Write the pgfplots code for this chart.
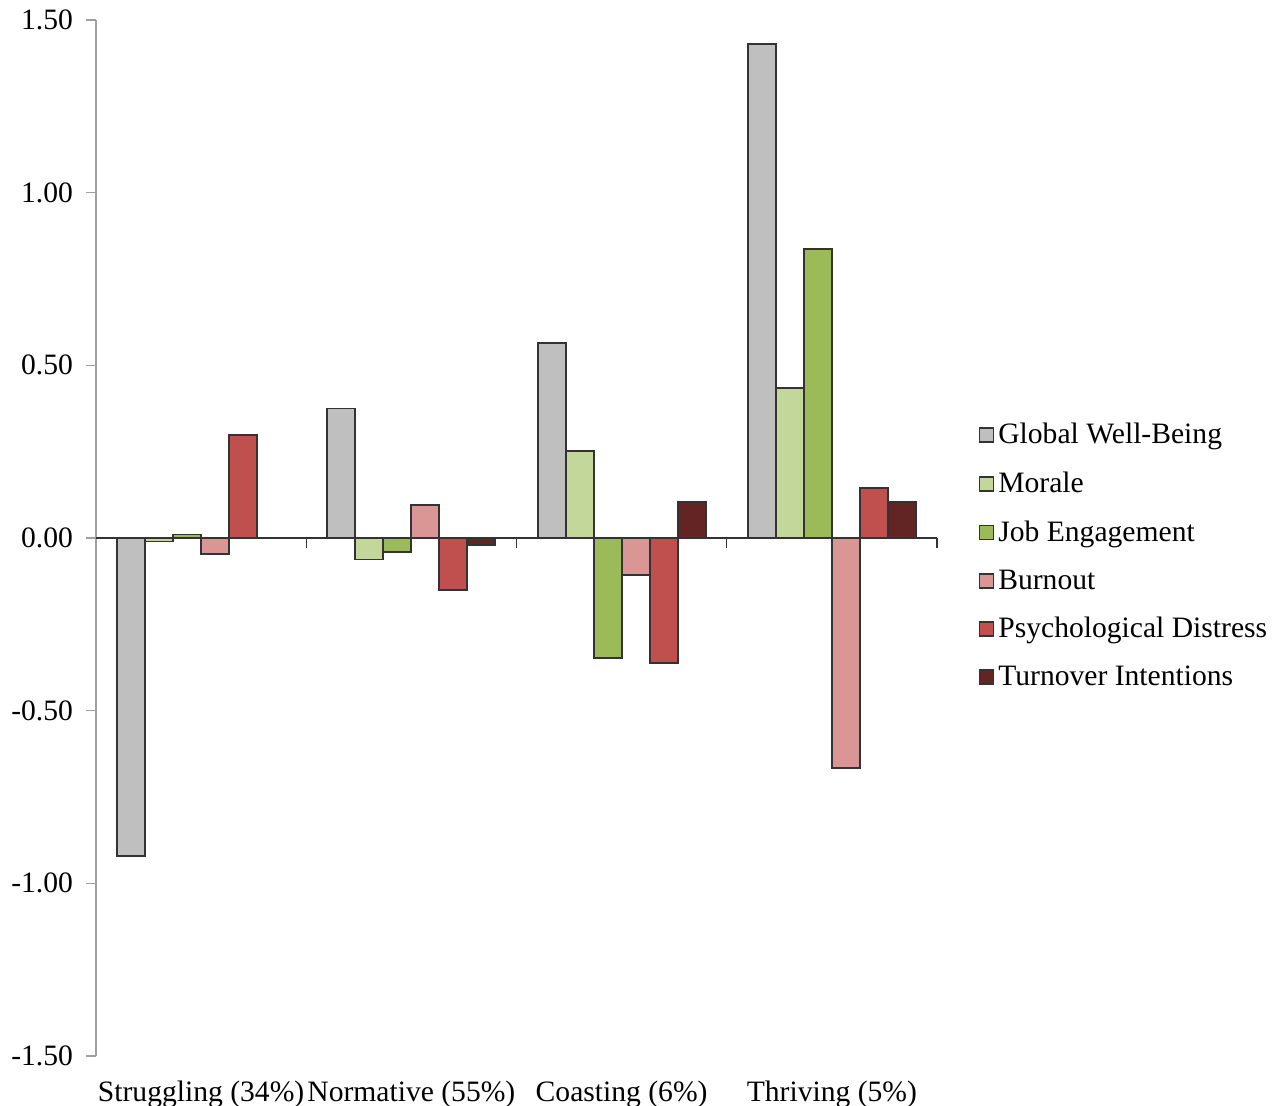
\documentclass[border=0pt]{standalone}
\usepackage{pgfplots}
\pgfplotsset{compat=1.18}
\usepackage{fontspec}
\setmainfont{Liberation Serif}
\definecolor{cGWB}{HTML}{BFBFBF}
\definecolor{cMor}{HTML}{C4D79B}
\definecolor{cJob}{HTML}{9BBB59}
\definecolor{cBur}{HTML}{DA9694}
\definecolor{cPsy}{HTML}{C0504D}
\definecolor{cTur}{HTML}{632523}
\definecolor{axgray}{HTML}{A0A0A0}
\begin{document}
\begin{tikzpicture}[font=\fontsize{14.8}{17}\selectfont]
\path[use as bounding box] (0,0) rectangle (638.5pt,553pt);
\begin{axis}[
  at={(48pt,25pt)}, anchor=south west,
  scale only axis, width=420.5pt, height=518pt,
  xmin=-0.5, xmax=3.5, ymin=-1.5, ymax=1.5,
  ybar=0pt, bar width=14pt,
  axis x line=none,
  axis y line*=left,
  y axis line style={draw=axgray, line width=0.7pt, -},
  ytick={-1.5,-1,-0.5,0,0.5,1,1.5},
  ytick style={draw=axgray, line width=0.7pt},
  tick align=outside, major tick length=5pt,
  yticklabel style={/pgf/number format/fixed, /pgf/number format/precision=2, /pgf/number format/fixed zerofill, /pgf/number format/assume math mode=true, xshift=-3pt},
  legend style={draw=none, fill=none, at={(1.042,0.4826)}, anchor=west, row sep=8.6pt, /tikz/every even column/.append style={column sep=2pt}},
  legend cell align=left,
  legend image code/.code={\draw[#1, line width=0.8pt] (0pt,-3.5pt) rectangle (7pt,3.5pt);},
  every axis plot/.append style={draw=black!80, line width=0.9pt},
  clip=false,
]
\addplot[fill=cGWB] coordinates {(0,-0.92) (1,0.375) (2,0.565) (3,1.43)};
\addplot[fill=cMor] coordinates {(0,-0.01) (1,-0.062) (2,0.252) (3,0.434)};
\addplot[fill=cJob] coordinates {(0,0.01) (1,-0.04) (2,-0.348) (3,0.838)};
\addplot[fill=cBur] coordinates {(0,-0.047) (1,0.096) (2,-0.107) (3,-0.667)};
\addplot[fill=cPsy] coordinates {(0,0.298) (1,-0.151) (2,-0.362) (3,0.145)};
\addplot[fill=cTur] coordinates {(0,0) (1,-0.02) (2,0.104) (3,0.104)};
\legend{Global Well-Being, Morale, Job Engagement, Burnout, Psychological Distress, Turnover Intentions}
\draw[black!80, line width=0.7pt] (axis cs:-0.5,0) -- (axis cs:3.5,0);
\draw[black!80, line width=0.7pt] (axis cs:0.5,0) -- (axis cs:0.5,-0.029);
\draw[black!80, line width=0.7pt] (axis cs:1.5,0) -- (axis cs:1.5,-0.029);
\draw[black!80, line width=0.7pt] (axis cs:2.5,0) -- (axis cs:2.5,-0.029);
\draw[black!80, line width=0.7pt] (axis cs:3.5,0) -- (axis cs:3.5,-0.029);
\node at (axis cs:0,-1.5) [anchor=north, yshift=-9pt] {Struggling (34\%)};
\node at (axis cs:1,-1.5) [anchor=north, yshift=-9pt] {Normative (55\%)};
\node at (axis cs:2,-1.5) [anchor=north, yshift=-9pt] {Coasting (6\%)};
\node at (axis cs:3,-1.5) [anchor=north, yshift=-9pt] {Thriving (5\%)};
\end{axis}
\end{tikzpicture}
\end{document}
